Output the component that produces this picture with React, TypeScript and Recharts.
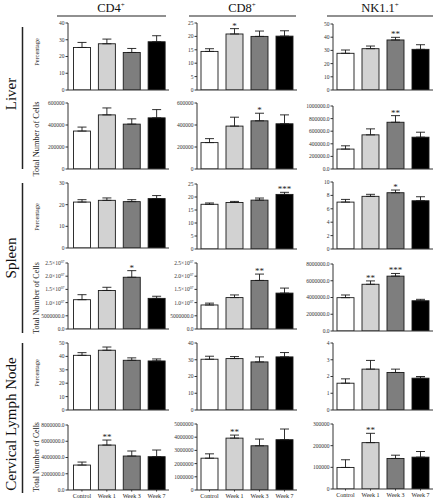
import React from "react";
import { BarChart, Bar, XAxis, YAxis, ErrorBar, Cell } from "recharts";

const SERIF = "'Liberation Serif', 'DejaVu Serif', serif";

const groups = ["Control", "Week 1", "Week 3", "Week 7"];
const barColors = ["#ffffff", "#d2d2d2", "#7e7e7e", "#000000"];

// Liver
const liverPctCD4 = [25.4, 27.6, 22.4, 28.8];
const liverPctCD4Sem = [3.0, 2.8, 2.4, 3.6];
const liverPctCD8 = [14.4, 20.9, 20.0, 20.1];
const liverPctCD8Sem = [1.0, 2.0, 2.0, 2.0];
const liverPctNK = [27.8, 31.3, 37.9, 30.8];
const liverPctNKSem = [2.5, 2.0, 2.0, 3.5];
const liverNumCD4 = [345000, 492000, 408000, 465000];
const liverNumCD4Sem = [36000, 63000, 48000, 75000];
const liverNumCD8 = [240000, 390000, 438000, 411000];
const liverNumCD8Sem = [36000, 81000, 69000, 81000];
const liverNumNK = [316000, 542000, 742000, 505000];
const liverNumNKSem = [52000, 95000, 105000, 79000];

// Spleen
const spleenPctCD4 = [21.2, 22.0, 21.4, 22.8];
const spleenPctCD4Sem = [1.1, 1.1, 0.9, 1.4];
const spleenPctCD8 = [17.2, 17.9, 18.8, 21.0];
const spleenPctCD8Sem = [0.5, 0.4, 0.8, 0.8];
const spleenPctNK = [7.0, 7.86, 8.4, 7.2];
const spleenPctNKSem = [0.4, 0.3, 0.4, 0.6];
const spleenNumCD4 = [11100000, 14600000, 19600000, 11600000];
const spleenNumCD4Sem = [1900000, 1200000, 2500000, 800000];
const spleenNumCD8 = [9100000, 11900000, 18400000, 13600000];
const spleenNumCD8Sem = [700000, 1000000, 2400000, 1900000];
const spleenNumNK = [3980000, 5580000, 6550000, 3610000];
const spleenNumNKSem = [320000, 400000, 320000, 170000];

// Cervical lymph node
const clnPctCD4 = [40.8, 44.6, 37.1, 36.6];
const clnPctCD4Sem = [2.0, 2.4, 1.8, 1.5];
const clnPctCD8 = [30.3, 30.7, 28.7, 31.7];
const clnPctCD8Sem = [1.8, 1.2, 3.0, 2.6];
const clnPctNK = [1.6, 2.44, 2.24, 1.9];
const clnPctNKSem = [0.26, 0.52, 0.2, 0.1];
const clnNumCD4 = [3070000, 5530000, 4180000, 4100000];
const clnNumCD4Sem = [370000, 620000, 620000, 820000];
const clnNumCD8 = [2410000, 3930000, 3350000, 3810000];
const clnNumCD8Sem = [330000, 230000, 510000, 810000];
const clnNumNK = [99500, 214000, 141000, 147000];
const clnNumNKSem = [35500, 43000, 15000, 26000];

// significance marks
const noSig = ["", "", "", ""];
const sigWeek1Two = ["", "**", "", ""];
const sigWeek3One = ["", "", "*", ""];
const sigWeek3Two = ["", "", "**", ""];
const sigLiverPctCD8 = ["", "*", "", ""];
const sigSpleenPctCD8 = ["", "", "", "***"];
const sigSpleenNumNK = ["", "**", "***", ""];

const plain = (v: number) => String(v);
const dec1 = (v: number) => v.toFixed(1);
const sci = (v: number) => (v >= 1e7 ? [(v / 1e7).toFixed(1) + "\u00d710", "07"] : v.toFixed(1));

const makeTick = (fmt: (v: number) => any) => (props: any) => {
  const { x, y, payload } = props;
  const label = fmt(payload.value);
  return (
    <text x={x} y={y} dy="0.35em" textAnchor="end" fontSize={5.5} fontFamily={SERIF} fill="#333">
      {Array.isArray(label) ? (
        <>
          {label[0]}
          <tspan dy={-2} fontSize={3.8}>
            {label[1]}
          </tspan>
        </>
      ) : (
        label
      )}
    </text>
  );
};

const BarShape = (props: any) => {
  const { x, y, width, height, fill, payload } = props;
  const perUnit = payload.mean > 0 ? height / payload.mean : 0;
  const errTop = y - payload.sem * perUnit;
  return (
    <g>
      <rect x={x} y={y} width={width} height={height} fill={fill} stroke="#1a1a1a" strokeWidth={0.9} />
      {payload.sig ? (
        <text x={x + width / 2} y={errTop} textAnchor="middle" fontSize={9} fontFamily={SERIF} fill="#222">
          {payload.sig}
        </text>
      ) : null}
    </g>
  );
};

type PanelDef = {
  col: number;
  top: number;
  bottom: number;
  mean: number[];
  sem: number[];
  sig: string[];
  max: number;
  step: number;
  fmt: (v: number) => any;
  showX?: boolean;
};

const cols = [
  { ax: 68, end: 169, padLeft: 1.5 },
  { ax: 197, end: 297, padLeft: 0 },
  { ax: 333, end: 433, padLeft: 0 },
];

const panels: PanelDef[] = [
  { col: 0, top: 23, bottom: 90, mean: liverPctCD4, sem: liverPctCD4Sem, sig: noSig, max: 40, step: 10, fmt: plain },
  { col: 1, top: 23, bottom: 90, mean: liverPctCD8, sem: liverPctCD8Sem, sig: sigLiverPctCD8, max: 25, step: 5, fmt: plain },
  { col: 2, top: 24, bottom: 90, mean: liverPctNK, sem: liverPctNKSem, sig: sigWeek3Two, max: 50, step: 10, fmt: plain },
  { col: 0, top: 103, bottom: 169, mean: liverNumCD4, sem: liverNumCD4Sem, sig: noSig, max: 600000, step: 200000, fmt: plain },
  { col: 1, top: 103, bottom: 169, mean: liverNumCD8, sem: liverNumCD8Sem, sig: sigWeek3One, max: 600000, step: 200000, fmt: plain },
  { col: 2, top: 106, bottom: 169, mean: liverNumNK, sem: liverNumNKSem, sig: sigWeek3Two, max: 1000000, step: 200000, fmt: dec1 },
  { col: 0, top: 183, bottom: 248, mean: spleenPctCD4, sem: spleenPctCD4Sem, sig: noSig, max: 30, step: 10, fmt: plain },
  { col: 1, top: 184, bottom: 249, mean: spleenPctCD8, sem: spleenPctCD8Sem, sig: sigSpleenPctCD8, max: 25, step: 5, fmt: plain },
  { col: 2, top: 182, bottom: 249, mean: spleenPctNK, sem: spleenPctNKSem, sig: sigWeek3One, max: 10, step: 2, fmt: plain },
  { col: 0, top: 263, bottom: 329, mean: spleenNumCD4, sem: spleenNumCD4Sem, sig: sigWeek3One, max: 25000000, step: 5000000, fmt: sci },
  { col: 1, top: 263, bottom: 329, mean: spleenNumCD8, sem: spleenNumCD8Sem, sig: sigWeek3Two, max: 25000000, step: 5000000, fmt: sci },
  { col: 2, top: 264, bottom: 331, mean: spleenNumNK, sem: spleenNumNKSem, sig: sigSpleenNumNK, max: 8000000, step: 2000000, fmt: dec1 },
  { col: 0, top: 343, bottom: 410, mean: clnPctCD4, sem: clnPctCD4Sem, sig: noSig, max: 50, step: 10, fmt: plain },
  { col: 1, top: 343, bottom: 410, mean: clnPctCD8, sem: clnPctCD8Sem, sig: noSig, max: 40, step: 10, fmt: plain },
  { col: 2, top: 343, bottom: 410, mean: clnPctNK, sem: clnPctNKSem, sig: noSig, max: 4, step: 1, fmt: plain },
  { col: 0, top: 425, bottom: 490, mean: clnNumCD4, sem: clnNumCD4Sem, sig: sigWeek1Two, max: 8000000, step: 2000000, fmt: dec1, showX: true },
  { col: 1, top: 424, bottom: 490, mean: clnNumCD8, sem: clnNumCD8Sem, sig: sigWeek1Two, max: 5000000, step: 1000000, fmt: plain, showX: true },
  { col: 2, top: 424, bottom: 489, mean: clnNumNK, sem: clnNumNKSem, sig: sigWeek1Two, max: 300000, step: 100000, fmt: plain, showX: true },
];

const YW = 40;
const TOPPAD = 6;

function Panel({ p }: { p: PanelDef }) {
  const c = cols[p.col];
  const xh = p.showX ? 10 : 2;
  const data = groups.map((g, i) => ({ group: g, mean: p.mean[i], sem: p.sem[i], range: [0, p.sem[i]], sig: p.sig[i] }));
  const ticks: number[] = [];
  for (let t = 0; t <= p.max + 1e-9; t += p.step) ticks.push(t);
  const width = c.end - c.ax + YW + 1;
  const height = p.bottom - p.top + TOPPAD + xh;
  return (
    <div style={{ position: "absolute", left: c.ax - YW, top: p.top - TOPPAD }}>
      <BarChart width={width} height={height} data={data} margin={{ top: TOPPAD, right: 1, left: 0, bottom: 0 }} barSize={17}>
        <XAxis
          dataKey="group"
          height={xh}
          padding={{ left: c.padLeft, right: 0 }}
          stroke="#333"
          tickLine={p.showX ? { stroke: "#333" } : false}
          tickSize={1.5}
          tick={p.showX ? { fontSize: 6, fontFamily: SERIF, fill: "#222" } : false}
          interval={0}
        />
        <YAxis
          width={YW}
          domain={[0, p.max]}
          allowDataOverflow
          ticks={ticks}
          interval={0}
          stroke="#333"
          tickSize={2.5}
          tickMargin={1}
          tick={makeTick(p.fmt)}
        />
        <Bar dataKey="mean" shape={<BarShape />} isAnimationActive={false}>
          {data.map((d, i) => (
            <Cell key={d.group} fill={barColors[i]} />
          ))}
          <ErrorBar dataKey="range" direction="y" width={4.5} stroke="#1a1a1a" strokeWidth={0.9} />
        </Bar>
      </BarChart>
    </div>
  );
}

const headers = [
  { text: "CD4", x: 111, x1: 57, x2: 166 },
  { text: "CD8", x: 242, x1: 189, x2: 296 },
  { text: "NK1.1", x: 380, x2: 433, x1: 327 },
];

const rowLabels = [
  { text: "Liver", y: 94, y1: 27, y2: 169 },
  { text: "Spleen", y: 258, y1: 183, y2: 333 },
  { text: "Cervical Lymph Node", y: 424, y1: 343, y2: 493 },
];

const axisLabels = [
  { text: "Percentage", y: 52, size: 6.3 },
  { text: "Total Number of Cells", y: 139, size: 8.4 },
  { text: "Percentage", y: 217, size: 6.3 },
  { text: "Total Number of Cells", y: 298, size: 8 },
  { text: "Percentage", y: 373, size: 6.3 },
  { text: "Total Number of Cells", y: 457, size: 7.8 },
];

export default function App() {
  return (
    <div style={{ position: "absolute", left: 0, top: 0, width: 437, height: 500, background: "#fff", overflow: "hidden" }}>
      <svg width={437} height={500} style={{ position: "absolute", left: 0, top: 0 }}>
        {headers.map((h) => (
          <g key={h.text}>
            <text x={h.x} y={12} textAnchor="middle" fontSize={12.5} fontFamily={SERIF} fill="#111">
              {h.text}
              <tspan dy={-5} fontSize={7}>
                +
              </tspan>
            </text>
            <line x1={h.x1} x2={h.x2} y1={16} y2={16} stroke="#222" strokeWidth={1.2} />
          </g>
        ))}
        {rowLabels.map((r) => (
          <g key={r.text}>
            <text
              x={0}
              y={0}
              transform={`translate(16, ${r.y}) rotate(-90)`}
              textAnchor="middle"
              fontSize={15}
              fontFamily={SERIF}
              fill="#111"
            >
              {r.text}
            </text>
            <line x1={22.5} x2={22.5} y1={r.y1} y2={r.y2} stroke="#222" strokeWidth={1.5} />
          </g>
        ))}
        {axisLabels.map((a, i) => (
          <text
            key={i}
            x={0}
            y={0}
            transform={`translate(39, ${a.y}) rotate(-90)`}
            textAnchor="middle"
            fontSize={a.size}
            fontFamily={SERIF}
            fill="#222"
          >
            {a.text}
          </text>
        ))}
      </svg>
      {panels.map((p, i) => (
        <Panel key={i} p={p} />
      ))}
    </div>
  );
}
